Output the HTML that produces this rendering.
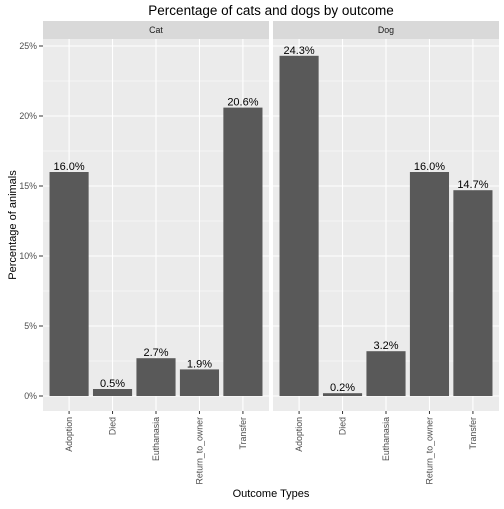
<!DOCTYPE html>
<html><head><style>
body{margin:0;background:#fff;font-family:"Liberation Sans",sans-serif}
text{font-family:"Liberation Sans",sans-serif}
</style></head><body>
<svg width="504" height="504" xmlns="http://www.w3.org/2000/svg"><g id="root"></g></svg>
<script>
const categories=["Adoption","Died","Euthanasia","Return_to_owner","Transfer"];
const panels=["Cat","Dog"];
const catValues=[16.0,0.5,2.7,1.9,20.6];
const dogValues=[24.3,0.2,3.2,16.0,14.7];
const yTicks=[0,5,10,15,20,25];
</script>
<script>
const NS="http://www.w3.org/2000/svg";
const root=document.getElementById('root');
function mk(t,a,p){const e=document.createElementNS(NS,t);for(const k in a)e.setAttribute(k,a[k]);(p||root).appendChild(e);return e;}
const plotTop=39,plotBot=411;
function yS(v){return 396-v*14;}
const panelX=[43,273],pw=226;
function xS(px,i){const step=pw/5.2;return px+step*(0.6+i);}
const t=mk('text',{x:271,y:15,'text-anchor':'middle','font-size':13.5,fill:'#000'});t.textContent='Percentage of cats and dogs by outcome';


const yt=mk('text',{x:0,y:0,transform:'translate(16,225) rotate(-90)','text-anchor':'middle','font-size':11,fill:'#000'});yt.textContent='Percentage of animals';


const xt=mk('text',{x:271,y:497,'text-anchor':'middle','font-size':11,fill:'#000'});xt.textContent='Outcome Types';


yTicks.forEach(v=>{
 const l=mk('text',{x:37,y:yS(v)+3,'text-anchor':'end','font-size':8.8,fill:'#4d4d4d'});l.textContent=v+'%';
 
 
 mk('line',{x1:39,x2:43,y1:yS(v),y2:yS(v),stroke:'#333','stroke-width':1});
});
[catValues,dogValues].forEach((vals,p)=>{
 const px=panelX[p];
 const g=mk('g',{});
 
 
 mk('rect',{x:px,y:plotTop,width:pw,height:plotBot-plotTop,fill:'#ebebeb'},g);
 mk('rect',{x:px,y:21,width:pw,height:18,fill:'#d9d9d9'},g);
 const s=mk('text',{x:px+pw/2,y:33,'text-anchor':'middle','font-size':8.8,fill:'#1a1a1a'},g);s.textContent=panels[p];
 
 
 for(let i=0;i<yTicks.length-1;i++){const m=(yTicks[i]+yTicks[i+1])/2;mk('line',{x1:px,x2:px+pw,y1:yS(m),y2:yS(m),stroke:'#fff','stroke-width':0.5},g);}
 yTicks.forEach(v=>mk('line',{x1:px,x2:px+pw,y1:yS(v),y2:yS(v),stroke:'#fff','stroke-width':1.1},g));
 categories.forEach((c,i)=>{
  const cx=xS(px,i);
  mk('line',{x1:cx,x2:cx,y1:plotTop,y2:plotBot,stroke:'#fff','stroke-width':1.1},g);
 });
 const bw=pw/5.2*0.9;
 categories.forEach((c,i)=>{
  const cx=xS(px,i),v=vals[i];
  const r=mk('rect',{x:cx-bw/2,y:yS(v),width:bw,height:yS(0)-yS(v),fill:'#595959'},g);
  
  
  const lb=mk('text',{x:cx,y:yS(v)-2,'text-anchor':'middle','font-size':11,fill:'#000'},g);lb.textContent=v.toFixed(1)+'%';
  
  
  mk('line',{x1:cx,x2:cx,y1:plotBot,y2:plotBot+3,stroke:'#333','stroke-width':1},g);
  const xl=mk('text',{x:0,y:0,transform:`translate(${cx+3},${plotBot+6}) rotate(-90)`,'text-anchor':'end','font-size':8.8,fill:'#4d4d4d'},g);xl.textContent=c;
  
  
 });
});
</script>
</body></html>
